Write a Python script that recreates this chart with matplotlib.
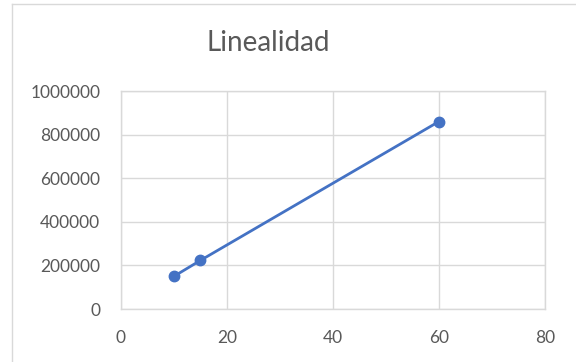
import matplotlib
matplotlib.use("Agg")
from matplotlib import pyplot as plt
from matplotlib.lines import Line2D

# datos de la serie
x_vals = [10, 15, 60]
y_vals = [150000, 223000, 860000]

x_ticks = [0, 20, 40, 60, 80]
y_ticks = [0, 200000, 400000, 600000, 800000, 1000000]

gris_texto = '#595959'
gris_linea = '#d9d9d9'
azul = '#4472C4'

plt.rcParams['font.family'] = ['Lato', 'DejaVu Sans']

fig = plt.figure(figsize=(5.76, 3.62), dpi=100)
ax = fig.add_axes([0.210, 0.1464, 0.736, 0.6022])

ax.plot(x_vals, y_vals, color=azul, linewidth=2, marker='o', markersize=7.5, zorder=3)

ax.set_xlim(0, 80)
ax.set_ylim(0, 1000000)
ax.set_xticks(x_ticks)
ax.set_yticks(y_ticks)
ax.set_xticklabels([str(v) for v in x_ticks])
ax.set_yticklabels([str(v) for v in y_ticks])
ax.tick_params(axis='both', length=0, labelsize=12.5, colors=gris_texto)
ax.tick_params(axis='x', pad=15)
ax.tick_params(axis='y', pad=15)
ax.grid(True, color=gris_linea, linewidth=1)
ax.set_axisbelow(True)
for s in ax.spines.values():
    s.set_color(gris_linea)
    s.set_linewidth(1)

fig.text(0.465, 0.881, 'Linealidad', ha='center', va='center', fontsize=20, color=gris_texto)

# marco del area del grafico (izquierda y arriba)
fig.add_artist(Line2D([11.5 / 576, 11.5 / 576], [0, 1 - 4 / 362], transform=fig.transFigure,
                      color=gris_linea, linewidth=1))
fig.add_artist(Line2D([11.5 / 576, 1], [1 - 4 / 362, 1 - 4 / 362], transform=fig.transFigure,
                      color=gris_linea, linewidth=1))

fig.savefig('out.png', dpi=100)
